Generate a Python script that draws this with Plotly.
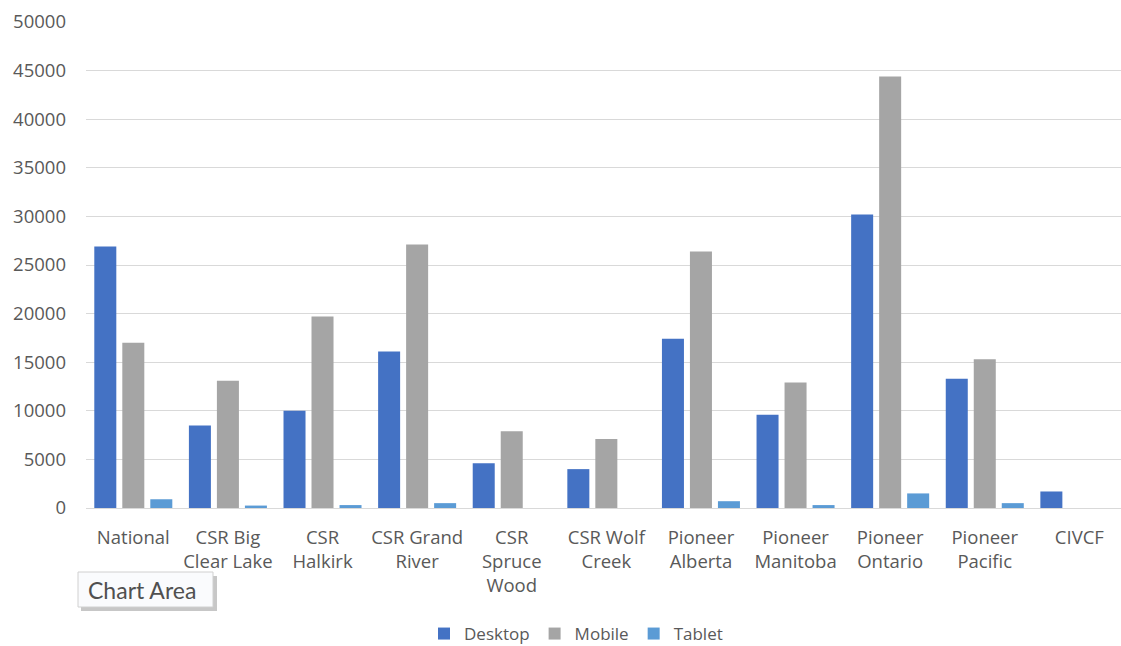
import plotly.graph_objects as go

categories = ["National", "CSR Big<br>Clear Lake", "CSR<br>Halkirk", "CSR Grand<br>River",
              "CSR<br>Spruce<br>Wood", "CSR Wolf<br>Creek", "Pioneer<br>Alberta",
              "Pioneer<br>Manitoba", "Pioneer<br>Ontario", "Pioneer<br>Pacific", "CIVCF"]
desktop = [26900, 8500, 10000, 16100, 4600, 4000, 17400, 9600, 30200, 13300, 1700]
mobile = [17000, 13100, 19700, 27100, 7900, 7100, 26400, 12900, 44400, 15300, 0]
tablet = [900, 250, 300, 500, 0, 0, 700, 300, 1500, 500, 0]
y_ticks = [0, 5000, 10000, 15000, 20000, 25000, 30000, 35000, 40000, 45000, 50000]

series = [("Desktop", desktop, "#4472C4"), ("Mobile", mobile, "#A5A5A5"), ("Tablet", tablet, "#5B9BD5")]

fig = go.Figure()
for name, vals, col in series:
    fig.add_trace(go.Bar(x=list(range(len(categories))), y=vals, name=name,
                         marker=dict(color=col, line=dict(width=0))))

L, R, T, B = 86, 0, 22, 138
W, H = 1121, 646
pw, ph = W - L - R, H - T - B

def px(x):
    return (x - L) / pw

def py(y):
    return (H - B - y) / ph

gray = "#595959"
fig.update_layout(
    width=W, height=H,
    margin=dict(l=L, r=R, t=T, b=B, autoexpand=False),
    paper_bgcolor="white", plot_bgcolor="white",
    barmode="group", bargap=0.112, bargroupgap=0.214,
    font=dict(family="Open Sans", size=18, color=gray),
    showlegend=True,
    legend=dict(orientation="h", x=px(576), xanchor="center", y=py(634), yanchor="middle",
                font=dict(size=17, color=gray), traceorder="normal", itemclick=False,
                tracegroupgap=0, borderwidth=0),
    xaxis=dict(range=[-0.5, 10.44], tickmode="array", tickvals=list(range(len(categories))),
               ticktext=categories, showgrid=False, zeroline=False, showline=False,
               ticks="", tickfont=dict(size=18.5, color=gray), ticklabelstandoff=16),
    yaxis=dict(range=[0, 50000], tickmode="array", tickvals=y_ticks,
               ticktext=[str(v) for v in y_ticks], showgrid=True, gridcolor="#D9D9D9",
               gridwidth=1, zeroline=True, zerolinecolor="#D9D9D9", zerolinewidth=1,
               showline=False, ticks="", tickfont=dict(size=18.5, color=gray),
               ticklabelstandoff=19),
    shapes=[
        dict(type="rect", xref="paper", yref="paper", x0=px(81), x1=px(217), y0=py(576), y1=py(611),
             fillcolor="rgba(0,0,0,0.22)", line=dict(width=0), layer="above"),
        dict(type="rect", xref="paper", yref="paper", x0=px(78), x1=px(213), y0=py(572), y1=py(607),
             fillcolor="#FAFBFD", line=dict(color="#D0D0D0", width=1), layer="above"),
    ],
    annotations=[
        dict(text="Chart Area", xref="paper", yref="paper", x=px(142), y=py(589.5),
             xanchor="center", yanchor="middle", showarrow=False,
             font=dict(family="Lato", size=23, color="#505050")),
    ],
)

fig.write_html("out.html")
